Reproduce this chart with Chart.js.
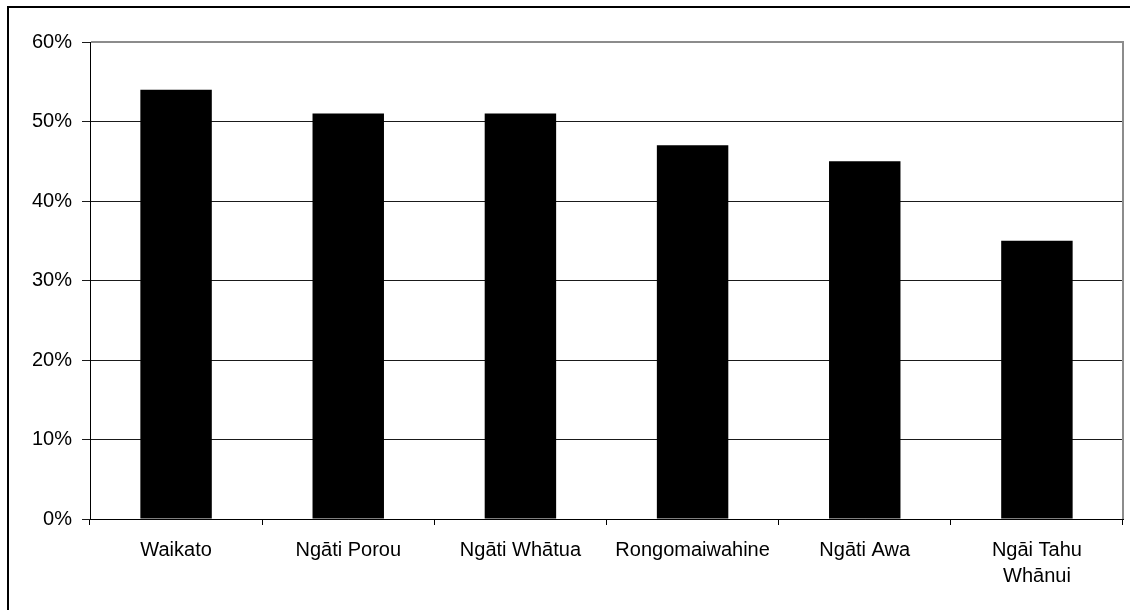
<!DOCTYPE html>
<html>
<head>
<meta charset="utf-8">
<script src="https://cdn.jsdelivr.net/npm/chart.js@4.4.1/dist/chart.umd.min.js"></script>
<style>
    html, body { margin: 0; padding: 0; background: #fff; overflow: hidden; }
    #wrap { position: absolute; left: 0; top: 0; width: 1130px; height: 610px; }
    #frame {
        position: absolute; left: 7px; top: 6px; width: 1200px; height: 700px;
        border-left: 2px solid #000; border-top: 2px solid #000;
    }
</style>
</head>
<body>
<div id="frame"></div>
<div id="wrap"><canvas id="iwiChart" width="1130" height="610"></canvas></div>
<script>
const categories = ["Waikato", "Ngāti Porou", "Ngāti Whātua", "Rongomaiwahine", "Ngāti Awa", ["Ngāi Tahu", "Whānui"]];
const values = [54, 51, 51, 47, 45, 35];
const yTicks = [0, 10, 20, 30, 40, 50, 60];

// gray frame on the top and right of the plot area
const plotFrame = {
    id: "plotFrame",
    afterDraw(chart) {
        const { ctx, chartArea } = chart;
        ctx.save();
        ctx.strokeStyle = "#8c8c8c";
        ctx.lineWidth = 2;
        ctx.beginPath();
        ctx.moveTo(chartArea.left + 1, chartArea.top);
        ctx.lineTo(chartArea.right, chartArea.top);
        ctx.lineTo(chartArea.right, chartArea.bottom);
        ctx.stroke();
        ctx.restore();
    }
};

document.addEventListener("DOMContentLoaded", function () {
    const ctx = document.getElementById("iwiChart").getContext("2d");
    new Chart(ctx, {
        type: "bar",
        data: {
            labels: categories,
            datasets: [{
                data: values,
                backgroundColor: "#000",
                borderWidth: 0,
                categoryPercentage: 1,
                barPercentage: 0.415
            }]
        },
        options: {
            responsive: false,
            animation: false,
            layout: { padding: { left: 0, right: 7, top: 42, bottom: 0 } },
            plugins: {
                legend: { display: false },
                tooltip: { enabled: false }
            },
            scales: {
                x: {
                    grid: { drawOnChartArea: false, drawTicks: true, tickLength: 6, color: "#000" },
                    border: { color: "#000", width: 1 },
                    ticks: {
                        color: "#000",
                        padding: 12,
                        maxRotation: 0,
                        autoSkip: false,
                        font: { family: "'Liberation Sans', Arial, sans-serif", size: 20, lineHeight: 1.3 }
                    },
                    afterFit: function (scale) { scale.height = 91; }
                },
                y: {
                    min: 0,
                    max: 60,
                    afterBuildTicks: function (scale) {
                        scale.ticks = yTicks.map(v => ({ value: v }));
                    },
                    grid: { color: "#1a1a1a", tickLength: 8, lineWidth: 1 },
                    border: { color: "#000", width: 1 },
                    ticks: {
                        color: "#000",
                        padding: 10,
                        font: { family: "'Liberation Sans', Arial, sans-serif", size: 20 },
                        callback: function (v) { return v + "%"; }
                    },
                    afterFit: function (scale) { scale.width = 90; }
                }
            }
        },
        plugins: [plotFrame]
    });
});
</script>
</body>
</html>
